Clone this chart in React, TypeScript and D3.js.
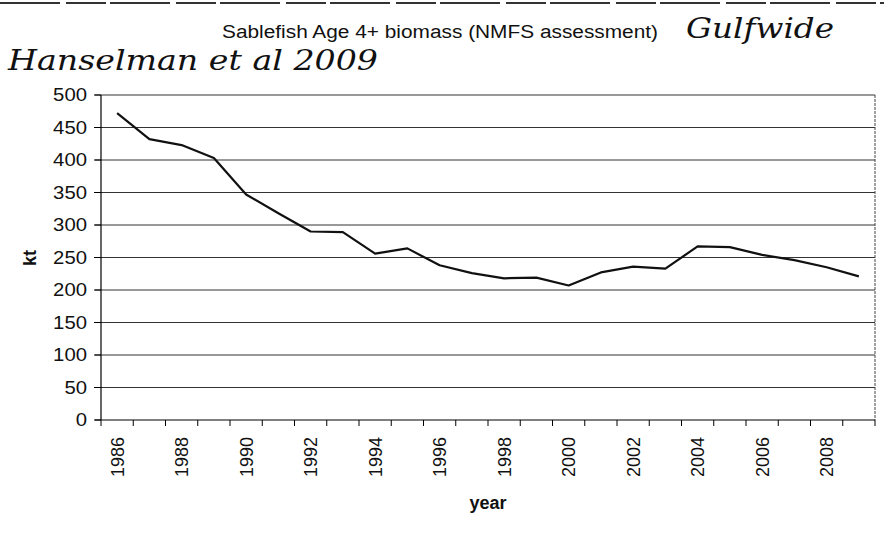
import * as d3 from 'd3';

const years = [
  '1986', '1987', '1988', '1989', '1990', '1991', '1992', '1993', '1994', '1995', '1996', '1997',
  '1998', '1999', '2000', '2001', '2002', '2003', '2004', '2005', '2006', '2007', '2008', '2009',
];
const biomass = [
  472, 432, 423, 403, 347, 318, 290, 289, 256, 264, 238, 226,
  218, 219, 207, 227, 236, 233, 267, 266, 254, 246, 235, 221,
];
const yTicks = [0, 50, 100, 150, 200, 250, 300, 350, 400, 450, 500];
const labelYears = years.filter((_, i) => i % 2 === 0);

const W = 884;
const H = 535;
const margin = { top: 95, right: 9, bottom: 115, left: 101 };
const width = W - margin.left - margin.right;
const height = H - margin.top - margin.bottom;

const App = () => {
  const x = d3.scaleBand().domain(years).range([0, width]);
  const y = d3.scaleLinear().domain([0, 500]).range([height, 0]);
  const line = d3.line<number>()
    .x((_, i) => (x(years[i]) ?? 0) + x.bandwidth() / 2)
    .y(d => y(d));

  const font = 'Arial, "Liberation Sans", sans-serif';
  const hand = '"DejaVu Serif", serif';

  return (
    <svg width={W} height={H} style={{ position: 'absolute', left: 0, top: 0, background: '#fff' }}>
      {/* scan border line at the top */}
      <line x1={0} x2={W} y1={3} y2={3} stroke="#333" strokeWidth={2} strokeDasharray="60 6 40 4" />

      <text x={222} y={38} fontFamily={font} fontSize={18} fill="#111"
        textLength={436} lengthAdjust="spacingAndGlyphs">
        Sablefish Age 4+ biomass (NMFS assessment)
      </text>
      <text x={686} y={38} fontFamily={hand} fontStyle="italic" fontSize={28} fill="#111"
        textLength={148} lengthAdjust="spacingAndGlyphs">Gulfwide</text>
      <text x={8} y={70} fontFamily={hand} fontStyle="italic" fontSize={28} fill="#111"
        textLength={370} lengthAdjust="spacingAndGlyphs">Hanselman et al 2009</text>

      <g transform={`translate(${margin.left},${margin.top})`}>
        {yTicks.map(t => (
          <g key={t}>
            {t > 0 && (
              <line x1={-6} x2={width} y1={y(t)} y2={y(t)} stroke="#333" strokeWidth={1} />
            )}
            <line x1={-7} x2={0} y1={y(t)} y2={y(t)} stroke="#000" />
            <text x={-14} y={y(t)} dy="0.36em" textAnchor="end" fontFamily={font} fontSize={18} fill="#111"
              textLength={String(t).length * 11.3} lengthAdjust="spacingAndGlyphs">
              {t}
            </text>
          </g>
        ))}
        {/* right border */}
        <line x1={width} x2={width} y1={0} y2={height} stroke="#444" strokeDasharray="3 1" />
        {/* axes */}
        <line x1={0} x2={0} y1={0} y2={height} stroke="#000" strokeWidth={1.2} />
        <line x1={-6} x2={width} y1={height} y2={height} stroke="#000" strokeWidth={1.2} />
        {years.concat(['end']).map((yr, i) => (
          <line
            key={yr}
            x1={i * x.bandwidth()}
            x2={i * x.bandwidth()}
            y1={height}
            y2={height + 6}
            stroke="#000"
          />
        ))}
        {labelYears.map(yr => (
          <text
            key={yr}
            transform={`translate(${(x(yr) ?? 0) + x.bandwidth() / 2},${height + 17}) rotate(-90)`}
            dy="0.36em"
            textAnchor="end"
            fontFamily={font}
            fontSize={18}
            fill="#111"
          >
            {yr}
          </text>
        ))}

        <path d={line(biomass) ?? ''} fill="none" stroke="#111" strokeWidth={2.2} strokeLinejoin="round" />
      </g>

      <text
        transform={`translate(30,258) rotate(-90)`}
        textAnchor="middle"
        dy="0.36em"
        fontFamily={font}
        fontWeight="bold"
        fontSize={18}
        fill="#111"
      >
        kt
      </text>
      <text x={488} y={509} textAnchor="middle" fontFamily={font} fontWeight="bold" fontSize={18} fill="#111">
        year
      </text>
    </svg>
  );
};

export default App;
